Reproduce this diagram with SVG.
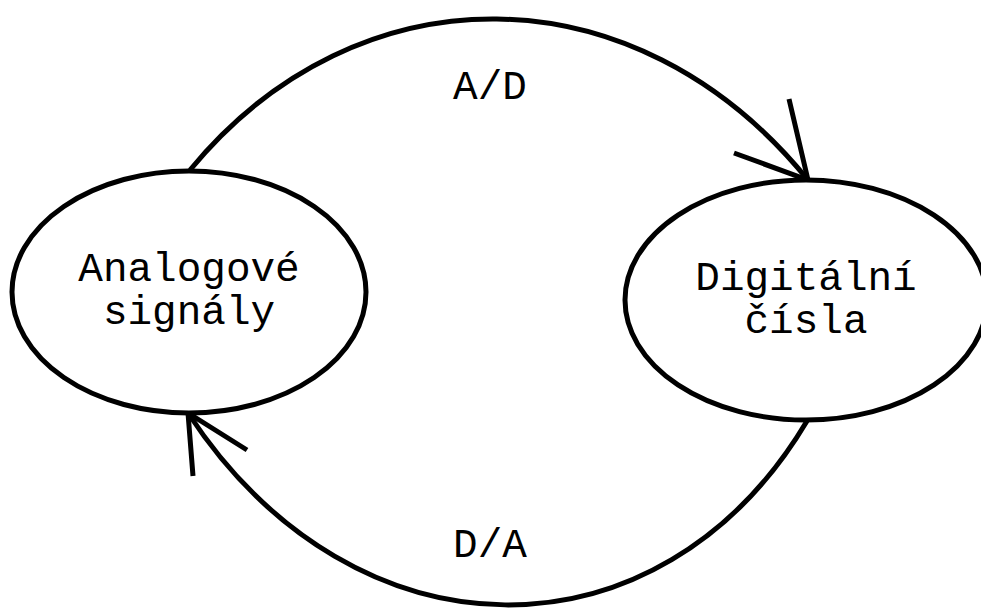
<svg xmlns="http://www.w3.org/2000/svg" width="981" height="609" viewBox="0 0 981 609">
<style>
.n{fill:#fff;stroke:#000;stroke-width:5}
.c{fill:none;stroke:#000;stroke-width:5}
text{font-family:"Liberation Mono","Courier New",monospace;font-size:41px;fill:#000;text-anchor:middle}
</style>
<rect width="981" height="609" fill="#fff"/>
<g id="connectors">
<path class="c" d="M190,170 C357,-33 635,-33 808,180"/>
<path class="c" d="M789,99 L808,180 L734,153"/>
<path class="c" d="M807,421 C660,668 355,667 188,413"/>
<path class="c" d="M193,476 L188,413 L247,450"/>
<text x="490" y="99">A/D</text>
<text x="490" y="557">D/A</text>
</g>
<g id="analog">
<ellipse class="n" cx="189" cy="292" rx="177" ry="121"/>
<text x="189" y="281">Analogové</text>
<text x="189" y="324">signály</text>
</g>
<g id="digital">
<ellipse class="n" cx="806" cy="300" rx="181" ry="120"/>
<text x="806" y="290">Digitální</text>
<text x="806" y="333">čísla</text>
</g>
</svg>
